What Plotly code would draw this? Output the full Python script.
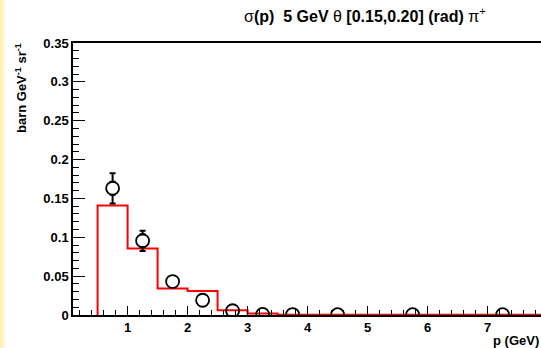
import plotly.graph_objects as go

# ---- data ----
bin_edges = [0.5, 1.0, 1.5, 2.0, 2.5, 3.0, 3.5, 8.0]
mc_values = [0.141, 0.0855, 0.034, 0.031, 0.006, 0.0018, 0.0003]

data_p = [0.75, 1.25, 1.75, 2.25, 2.75, 3.25, 3.75, 4.5, 5.75, 7.25]
data_sigma = [0.163, 0.0955, 0.043, 0.019, 0.0055, 0.0008, 0.0006, 0.0005, 0.0005, 0.0004]
data_err = [0.0195, 0.013, 0.004, 0.003, 0.0015, 0.0005, 0.0004, 0.0003, 0.0003, 0.0003]

x_ticks = [1, 2, 3, 4, 5, 6, 7]
y_ticks = [0, 0.05, 0.1, 0.15, 0.2, 0.25, 0.3, 0.35]
y_tick_text = ["0", "0.05", "0.1", "0.15", "0.2", "0.25", "0.3", "0.35"]

# ---- geometry ----
W, H = 541, 348
ML, MR, MT, MB = 73, 0, 43, 33
PW, PH = W - ML - MR, H - MT - MB
YMAX = 0.35
XR = [0.09, 7.89]
FONT = "Liberation Sans"
MSIZE = 13

fig = go.Figure()

# step histogram path derived from bin edges / values
hx, hy = [bin_edges[0]], [0.0]
for i, v in enumerate(mc_values):
    hx += [bin_edges[i], bin_edges[i + 1]]
    hy += [v, v]
fig.add_trace(go.Scatter(x=hx, y=hy, mode="lines",
                         line=dict(color="#ff0000", width=2),
                         hoverinfo="skip", showlegend=False))

# error bars drawn outside the open markers
r_data = (MSIZE / 2) * YMAX / PH
up_x, up_y, up_e, lo_y, lo_e = [], [], [], [], []
for p, s, e in zip(data_p, data_sigma, data_err):
    if e > r_data:
        up_x.append(p)
        up_y.append(s + r_data)
        up_e.append(e - r_data)
        lo_y.append(s - r_data)
        lo_e.append(e - r_data)
fig.add_trace(go.Scatter(x=up_x, y=up_y, mode="markers",
                         marker=dict(size=1, color="rgba(0,0,0,0)"),
                         error_y=dict(type="data", symmetric=False, array=up_e,
                                      arrayminus=[0] * len(up_e),
                                      color="black", thickness=2, width=3),
                         hoverinfo="skip", showlegend=False))
fig.add_trace(go.Scatter(x=up_x, y=lo_y, mode="markers",
                         marker=dict(size=1, color="rgba(0,0,0,0)"),
                         error_y=dict(type="data", symmetric=False, array=[0] * len(lo_e),
                                      arrayminus=lo_e,
                                      color="black", thickness=2, width=3),
                         hoverinfo="skip", showlegend=False))

fig.add_trace(go.Scatter(x=data_p, y=data_sigma, mode="markers",
                         marker=dict(symbol="circle-open", size=MSIZE,
                                     color="black", line=dict(width=1.8, color="black")),
                         showlegend=False))

def px_x(px):
    return (px - ML) / PW

def px_y(py):
    return (H - MB - py) / PH

shapes = []
for (a, b, c) in [(0, 2, "#fff0b0"), (2, 4, "#fff5cf"), (4, 6, "#fffbec")]:
    shapes.append(dict(type="rect", xref="paper", yref="paper",
                       x0=px_x(a), x1=px_x(b), y0=px_y(H), y1=px_y(0),
                       line=dict(width=0), fillcolor=c, layer="below"))

annotations = [
    dict(text="σ<b>(p)  5 GeV </b>θ<b> [0.15,0.20] (rad) </b>π<sup>+</sup>",
         xref="paper", yref="paper", x=px_x(365), y=px_y(15),
         xanchor="center", yanchor="middle", showarrow=False,
         font=dict(family=FONT, size=16, color="black")),
    dict(text="<b>barn GeV<sup>-1</sup> sr<sup>-1</sup></b>",
         xref="paper", yref="paper", x=px_x(21), y=px_y(41),
         xanchor="center", yanchor="top", textangle=-90, showarrow=False,
         font=dict(family=FONT, size=13, color="black")),
    dict(text="<b>p (GeV)</b>",
         xref="paper", yref="paper", x=px_x(541), y=px_y(340),
         xanchor="right", yanchor="middle", showarrow=False,
         font=dict(family=FONT, size=13, color="black")),
]

fig.update_layout(
    width=W, height=H,
    margin=dict(l=ML, r=MR, t=MT, b=MB, pad=0),
    paper_bgcolor="white", plot_bgcolor="white",
    shapes=shapes, annotations=annotations,
    font=dict(family=FONT, size=13, color="black"),
    xaxis=dict(range=XR, showgrid=False, zeroline=False,
               showline=True, linecolor="black", linewidth=1.5, mirror=True,
               ticks="inside", ticklen=9, tickwidth=1.3, tickcolor="black",
               tickvals=x_ticks, ticktext=[f"<b>{t}</b>" for t in x_ticks],
               tickfont=dict(family=FONT, size=13, color="black"),
               minor=dict(ticks="inside", dtick=0.2, tick0=0, ticklen=5,
                          tickwidth=1.3, tickcolor="black", showgrid=False)),
    yaxis=dict(range=[0, YMAX], showgrid=False, zeroline=False,
               showline=True, linecolor="black", linewidth=1.5, mirror=False,
               ticks="inside", ticklen=12, tickwidth=1.3, tickcolor="black",
               tickvals=y_ticks, ticktext=[f"<b>{t}</b>" for t in y_tick_text],
               tickfont=dict(family=FONT, size=13, color="black"),
               minor=dict(ticks="inside", dtick=0.01, tick0=0, ticklen=6,
                          tickwidth=1.3, tickcolor="black", showgrid=False)),
)

fig.write_html("out.html")
